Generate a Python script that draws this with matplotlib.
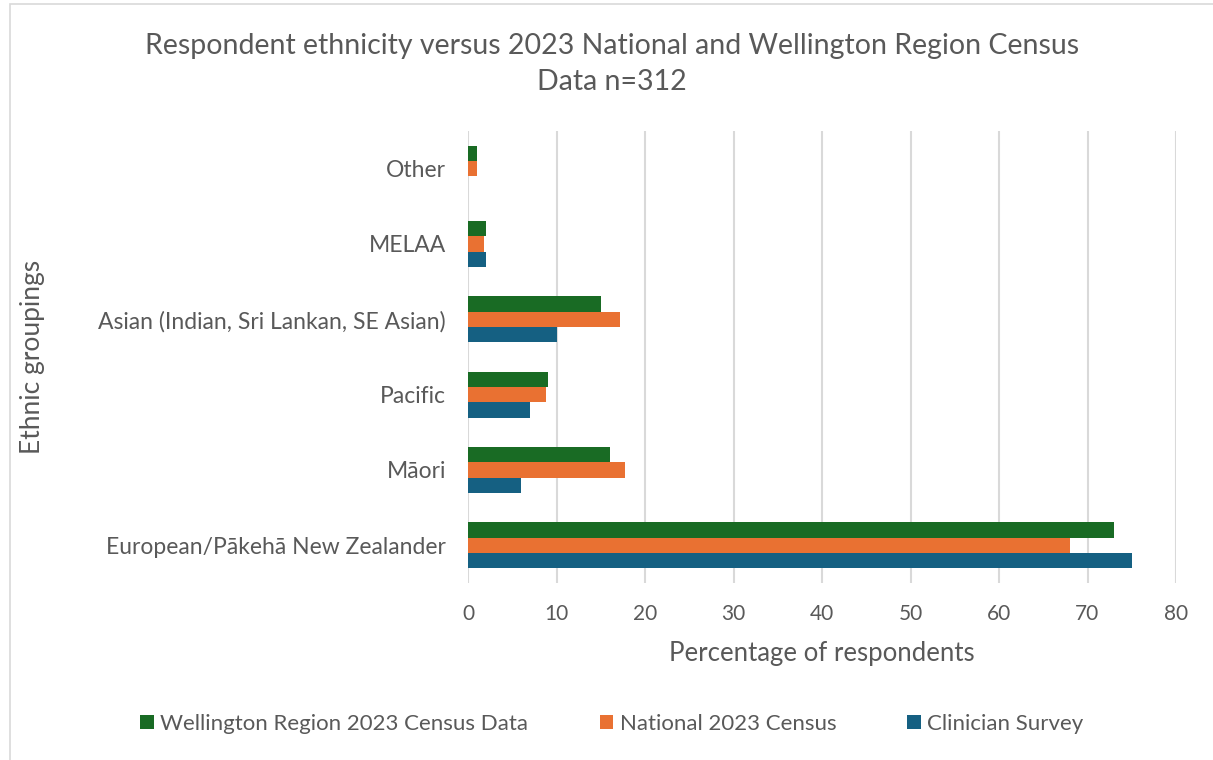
import numpy as np
import matplotlib.pyplot as plt
from matplotlib.patches import Rectangle

plt.rcParams['font.family'] = ['Lato', 'DejaVu Sans']

# ethnic groups, bottom to top
groups = ['European/Pākehā New Zealander', 'Māori', 'Pacific',
          'Asian (Indian, Sri Lankan, SE Asian)', 'MELAA', 'Other']
wellington = [73, 16, 9, 15, 2, 1]
national = [68, 17.7, 8.8, 17.2, 1.8, 1]
clinician = [75, 6, 7, 10, 2, 0]

series_names = ['Wellington Region 2023 Census Data', 'National 2023 Census', 'Clinician Survey']
colors = ['#196B24', '#E97132', '#156082']
txt = '#595959'

fig = plt.figure(figsize=(12.13, 7.6), dpi=100)
fig.patches.append(Rectangle((10 / 1213, -0.01), 1.02, 1 - 4 / 760 + 0.01,
                             transform=fig.transFigure, fill=False,
                             edgecolor='#d9d9d9', linewidth=1.2))

ax = fig.add_axes([468 / 1213, 177 / 760, 708 / 1213, 452 / 760])

y = np.arange(len(groups))
h = 0.205
for i, (vals, name, c) in enumerate(zip([wellington, national, clinician], series_names, colors)):
    ax.barh(y + (1 - i) * h, vals, height=h, color=c, label=name, zorder=3)

ax.set_xlim(0, 80)
ax.set_ylim(-0.5, 5.5)
ax.set_xticks(range(0, 81, 10))
ax.set_yticks(y)
ax.set_yticklabels(groups)
ax.grid(axis='x', color='#d9d9d9', linewidth=1.5, zorder=0)
for s in ax.spines.values():
    s.set_visible(False)
ax.tick_params(length=0, labelcolor=txt)
ax.tick_params(axis='x', pad=15, labelsize=15)
ax.tick_params(axis='y', pad=16, labelsize=16.5)

ax.set_xlabel('Percentage of respondents', fontsize=18.5, color=txt, labelpad=12)
fig.text(33 / 1213, 1 - 357 / 760, 'Ethnic groupings', rotation=90, fontsize=19,
         color=txt, ha='center', va='center')

fig.text(612 / 1213, 1 - 64 / 760,
         'Respondent ethnicity versus 2023 National and Wellington Region Census\nData n=312',
         ha='center', va='center', fontsize=20.5, color=txt, linespacing=1.45)

handles, labels = ax.get_legend_handles_labels()
fig.legend(handles, labels, loc='center', bbox_to_anchor=(612 / 1213, 1 - 724 / 760),
           ncol=3, frameon=False, fontsize=16, labelcolor=txt,
           handlelength=0.6, handleheight=0.6, handletextpad=0.3, columnspacing=3.2)

fig.savefig('out.png', dpi=100)
